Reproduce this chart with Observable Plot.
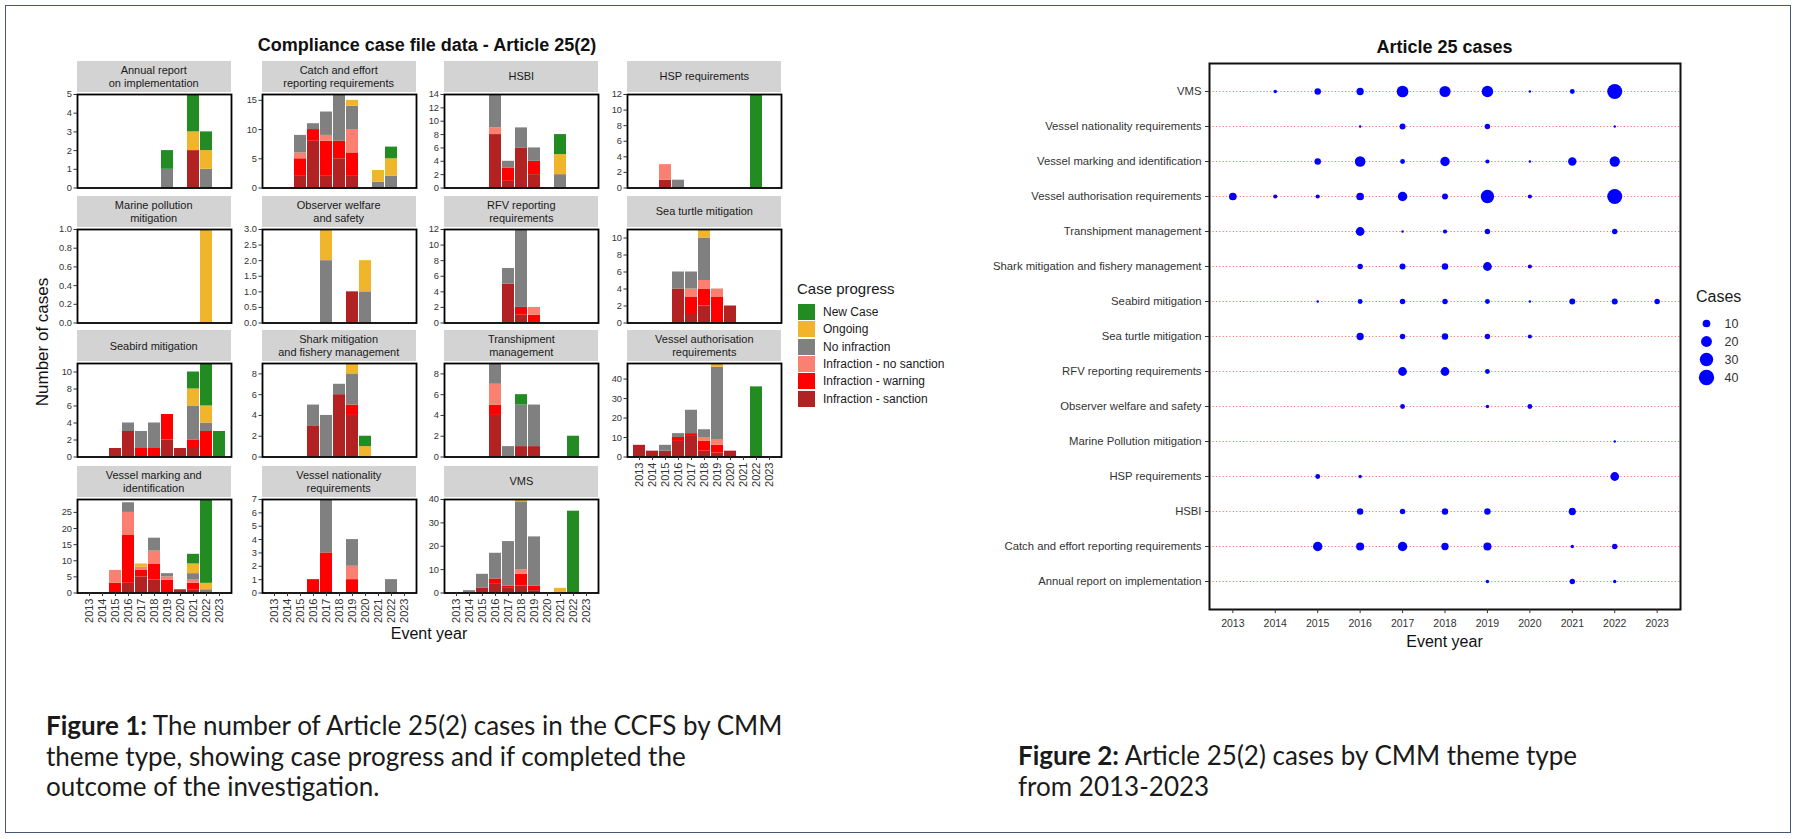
<!DOCTYPE html>
<html><head><meta charset="utf-8">
<script src="https://cdn.jsdelivr.net/npm/d3@7"></script>
<script src="https://cdn.jsdelivr.net/npm/@observablehq/plot@0.6"></script>
<style>
body{margin:0;background:#fff;}
#page{position:relative;width:1797px;height:839px;overflow:hidden;font-family:"Liberation Sans",Arial,sans-serif;background:#fff;}
.strip{position:absolute;background:#D3D3D3;color:#1a1a1a;font-size:11px;display:flex;align-items:center;justify-content:center;text-align:center;line-height:1.15;white-space:pre-line;}
.t{position:absolute;white-space:nowrap;transform:translate(-50%,-50%);color:#111;}
.cap{position:absolute;font-family:Lato,"Open Sans",sans-serif;font-size:26px;line-height:30.5px;color:#1a1a1a;white-space:nowrap;}
.lg{position:absolute;white-space:nowrap;color:#1a1a1a;}
</style></head><body><div id="page"></div>
<script>
// ---------- DATA ----------
const years = [2013,2014,2015,2016,2017,2018,2019,2020,2021,2022,2023];
// stack order, bottom -> top
const progress = ["Infraction - sanction","Infraction - warning","Infraction - no sanction","No infraction","Ongoing","New Case"];
const progressColors = ["#B22222","#FF0000","#FA8072","#808080","#F1B52B","#228B22"];
const legendOrder = ["New Case","Ongoing","No infraction","Infraction - no sanction","Infraction - warning","Infraction - sanction"];

// rows: [year, sanction, warning, no sanction, no infraction, ongoing, new case]
const annualReport   = [[2019,0,0,0,1,0,1],[2021,2,0,0,0,1,2],[2022,0,0,0,1,1,1]];
const catchEffort    = [[2015,2,3,1,3,0,0],[2016,8,2,0,1,0,0],[2017,2,6,1,4,0,0],[2018,5,3,0,8,0,0],[2019,2,4,4,4,1,0],[2021,0,0,0,1,2,0],[2022,0,0,0,2,3,2]];
const hsbi           = [[2016,8,0,1,5,0,0],[2017,1,2,0,1,0,0],[2018,6,0,0,3,0,0],[2019,2,2,0,2,0,0],[2021,0,0,0,2,3,3]];
const hspReq         = [[2015,1,0,2,0,0,0],[2016,0,0,0,1,0,0],[2022,0,0,0,0,0,12]];
const marinePollution= [[2022,0,0,0,0,1,0]];
const observerWelfare= [[2017,0,0,0,2,1,0],[2019,1,0,0,0,0,0],[2020,0,0,0,1,1,0]];
const rfvReporting   = [[2017,5,0,0,2,0,0],[2018,1,1,0,10,0,0],[2019,0,1,1,0,0,0]];
const seaTurtle      = [[2016,4,0,0,2,0,0],[2017,1,2,1,2,0,0],[2018,2,2,1,5,1,0],[2019,0,3,1,0,0,0],[2020,2,0,0,0,0,0]];
const seabird        = [[2015,1,0,0,0,0,0],[2016,3,0,0,1,0,0],[2017,0,1,0,2,0,0],[2018,0,1,0,3,0,0],[2019,2,3,0,0,0,0],[2020,1,0,0,0,0,0],[2021,1,1,0,4,2,2],[2022,0,3,0,1,2,5],[2023,0,0,0,0,0,3]];
const sharkMitigation= [[2016,3,0,0,2,0,0],[2017,0,0,0,4,0,0],[2018,6,0,0,1,0,0],[2019,4,1,0,3,1,0],[2020,0,0,0,0,1,1]];
const transhipment   = [[2016,4,1,2,2,0,0],[2017,0,0,0,1,0,0],[2018,1,0,0,4,0,1],[2019,1,0,0,4,0,0],[2022,0,0,0,0,0,2]];
const vesselAuth     = [[2013,6,0,0,0,0,0],[2014,3,0,0,0,0,0],[2015,3,0,0,3,0,0],[2016,8,2,0,2,0,0],[2017,11,1,0,12,0,0],[2018,3,5,2,4,0,0],[2019,2,4,3,37,2,0],[2020,3,0,0,0,0,0],[2022,0,0,0,0,0,36]];
const vesselMarking  = [[2015,0,3,4,0,0,0],[2016,3,15,7,3,0,0],[2017,5,2,1,0,1,0],[2018,4,5,4,4,0,0],[2019,0,4,1,1,0,0],[2020,1,0,0,0,0,0],[2021,1,2,1,2,3,3],[2022,0,0,0,1,2,26]];
const vesselNation   = [[2016,0,1,0,0,0,0],[2017,0,3,0,4,0,0],[2019,0,1,1,2,0,0],[2022,0,0,0,1,0,0]];
const vms            = [[2014,0,0,0,1,0,0],[2015,2,0,0,6,0,0],[2016,4,2,0,11,0,0],[2017,2,1,0,19,0,0],[2018,3,5,2,29,1,0],[2019,1,2,0,21,0,0],[2021,0,0,0,0,2,0],[2022,0,0,0,0,0,35]];

const stripLabels = ["Annual report\non implementation","Catch and effort\nreporting requirements","HSBI","HSP requirements",
  "Marine pollution\nmitigation","Observer welfare\nand safety","RFV reporting\nrequirements","Sea turtle mitigation",
  "Seabird mitigation","Shark mitigation\nand fishery management","Transhipment\nmanagement","Vessel authorisation\nrequirements",
  "Vessel marking and\nidentification","Vessel nationality\nrequirements","VMS"];
const yTickSteps = [1,5,2,2,0.2,0.5,2,2,2,2,2,10,5,1,10];

// dot chart: [year, cases]
const dotThemes = ["VMS","Vessel nationality requirements","Vessel marking and identification","Vessel authorisation requirements",
  "Transhipment management","Shark mitigation and fishery management","Seabird mitigation","Sea turtle mitigation",
  "RFV reporting requirements","Observer welfare and safety","Marine Pollution mitigation","HSP requirements","HSBI",
  "Catch and effort reporting requirements","Annual report on implementation"];
const dotVMS        = [[2014,2],[2015,7],[2016,9],[2017,23],[2018,21],[2019,22],[2020,1],[2021,4],[2022,38]];
const dotNationality= [[2016,1],[2017,6],[2019,5],[2022,1]];
const dotMarking    = [[2015,7],[2016,19],[2017,4],[2018,15],[2019,3],[2020,1],[2021,12],[2022,18]];
const dotAuth       = [[2013,10],[2014,3],[2015,3],[2016,10],[2017,15],[2018,6],[2019,30],[2020,3],[2022,38]];
const dotTranship   = [[2016,13],[2017,1],[2018,3],[2019,5],[2022,5]];
const dotShark      = [[2016,5],[2017,6],[2018,7],[2019,13],[2020,3]];
const dotSeabird    = [[2015,1],[2016,4],[2017,5],[2018,5],[2019,4],[2020,1],[2021,6],[2022,6],[2023,5]];
const dotSeaTurtle  = [[2016,9],[2017,5],[2018,7],[2019,5],[2020,3]];
const dotRFV        = [[2017,13],[2018,13],[2019,4]];
const dotObserver   = [[2017,4],[2019,2],[2020,4]];
const dotMarine     = [[2022,1]];
const dotHSP        = [[2015,4],[2016,2],[2022,13]];
const dotHSBI       = [[2016,7],[2017,5],[2018,7],[2019,7],[2021,9]];
const dotCatch      = [[2015,15],[2016,11],[2017,15],[2018,9],[2019,11],[2021,2],[2022,5]];
const dotAnnual     = [[2019,2],[2021,5],[2022,2]];
const sizeLegend = [10,20,30,40];

// ---------- LAYOUT ----------
const page = document.getElementById("page");
function place(el, left, top){ el.style.position="absolute"; el.style.left=left+"px"; el.style.top=top+"px"; page.appendChild(el); return el; }
function text(str, x, y, css, cls="t"){ const d=document.createElement("div"); d.className=cls; d.textContent=str; Object.assign(d.style, css||{}); return place(d, x, y); }

// border
const border = document.createElement("div");
Object.assign(border.style,{width:"1786px",height:"828px",border:"1.5px solid #46577a",boxSizing:"border-box"});
place(border, 5, 5);

// ---------- FIGURE 1: facets ----------
const facetData = [annualReport,catchEffort,hsbi,hspReq,marinePollution,observerWelfare,rfvReporting,seaTurtle,
  seabird,sharkMitigation,transhipment,vesselAuth,vesselMarking,vesselNation,vms];
const colLefts=[76.7,261.7,444.3,627.3], rowTops=[94,229,363.4,499], PW=154, PH=93.5;
const bottomPanels = new Set([11,12,13,14]);

facetData.forEach((rows, i) => {
  const col = i % 4, row = Math.floor(i / 4);
  const long = [];
  rows.forEach(r => progress.forEach((k, j) => { if (r[j+1] > 0) long.push({year: r[0], progress: k, n: r[j+1]}); }));
  const ymax = d3.max(rows, r => d3.sum(r.slice(1)));
  const step = yTickSteps[i];
  const ticks = d3.range(0, ymax + step/1000, step).map(v => +v.toFixed(3));
  const fmt = step < 1 ? d3.format(".1f") : d3.format("d");
  const showX = bottomPanels.has(i);
  const ml = 30, mr = 2, mt = 1, mb = showX ? 38 : 1;
  const marks = [
    Plot.barY(long, {x: "year", y: "n", fill: "progress", order: progress}),
    Plot.frame({stroke: "#000", strokeWidth: 1.8}),
    Plot.axisY({ticks, tickFormat: fmt, tickSize: 3.5, tickPadding: 2, fontSize: 9.3, label: null})
  ];
  if (showX) marks.push(Plot.axisX({tickRotate: -90, tickSize: 3.5, tickPadding: 2, fontSize: 11, label: null, tickFormat: d => String(d)}));
  const chart = Plot.plot({
    width: PW + ml + mr, height: PH + mt + mb,
    marginLeft: ml, marginRight: mr, marginTop: mt, marginBottom: mb,
    x: {type: "band", domain: years, paddingInner: 0.1, paddingOuter: 0.15, axis: showX ? undefined : null},
    y: {domain: [0, ymax]},
    color: {domain: progress, range: progressColors},
    style: {background: "transparent", overflow: "visible", fontFamily: "Liberation Sans, Arial, sans-serif", color: "#333"},
    marks
  });
  place(chart, colLefts[col] - ml, rowTops[row] - mt);
  const s = document.createElement("div");
  s.className = "strip"; s.textContent = stripLabels[i];
  Object.assign(s.style, {width: PW + "px", height: "31px"});
  place(s, colLefts[col], rowTops[row] - 33);
});

text("Compliance case file data - Article 25(2)", 427, 45, {fontSize: "18px", fontWeight: "bold"});
text("Number of cases", 43, 342, {fontSize: "17px", transform: "translate(-50%,-50%) rotate(-90deg)"});
text("Event year", 429, 634, {fontSize: "16px"});

// case progress legend
text("Case progress", 797, 280, {fontSize: "15px"}, "lg");
legendOrder.forEach((k, i) => {
  const sw = document.createElement("div");
  Object.assign(sw.style, {width: "17px", height: "16px", background: progressColors[progress.indexOf(k)]});
  place(sw, 798, 304 + i * 17.3);
  text(k, 823, 304 + i * 17.3 + 1, {fontSize: "12px"}, "lg");
});

// ---------- FIGURE 2: dot chart ----------
const dotSeries = [dotVMS,dotNationality,dotMarking,dotAuth,dotTranship,dotShark,dotSeabird,dotSeaTurtle,dotRFV,dotObserver,dotMarine,dotHSP,dotHSBI,dotCatch,dotAnnual];
const dotLong = [];
dotSeries.forEach((arr, i) => arr.forEach(([year, n]) => dotLong.push({theme: dotThemes[i], year, n})));
const rScale = {domain: [0, 40], range: [0, 7.7]};
const dml = 224, dmr = 3, dmt = 2, dmb = 34, DW = 471, DH = 546;
const dotChart = Plot.plot({
  width: DW + dml + dmr, height: DH + dmt + dmb,
  marginLeft: dml, marginRight: dmr, marginTop: dmt, marginBottom: dmb,
  x: {type: "linear", domain: [2012.45, 2023.55]},
  y: {type: "point", domain: dotThemes, padding: 0.6},
  r: rScale,
  style: {background: "transparent", overflow: "visible", fontFamily: "Liberation Sans, Arial, sans-serif", color: "#333"},
  marks: [
    Plot.ruleY(dotThemes, {y: d => d, stroke: "#ff0000", strokeOpacity: 0.55, strokeDasharray: "1.2,2.2"}),
    Plot.dot(dotLong, {x: "year", y: "theme", r: "n", fill: "#0000ff"}),
    Plot.frame({stroke: "#111", strokeWidth: 2}),
    Plot.axisY({tickSize: 4, tickPadding: 4, fontSize: 11.3, label: null}),
    Plot.axisX({ticks: years, tickFormat: "d", tickSize: 4, tickPadding: 6, fontSize: 10.5, label: null})
  ]
});
place(dotChart, 1209 - dml, 63 - dmt);
text("Article 25 cases", 1444.5, 47, {fontSize: "18px", fontWeight: "bold"});
text("Event year", 1444.5, 642, {fontSize: "16px"});

// size legend
text("Cases", 1696, 288, {fontSize: "16px"}, "lg");
const sizeLeg = Plot.plot({
  width: 50, height: 72, margin: 0,
  x: {domain: [0, 50], axis: null},
  y: {type: "point", domain: sizeLegend, padding: 0.5, axis: null},
  r: rScale,
  style: {background: "transparent", overflow: "visible", fontFamily: "Liberation Sans, Arial, sans-serif"},
  marks: [
    Plot.dot(sizeLegend, {x: () => 10, y: d => d, r: d => d, fill: "#0000ff"}),
    Plot.text(sizeLegend, {x: () => 28, y: d => d, text: d => String(d), textAnchor: "start", fontSize: 12.5, fill: "#333"})
  ]
});
place(sizeLeg, 1696, 314);

// ---------- captions ----------
const cap1 = document.createElement("div"); cap1.className = "cap";
cap1.innerHTML = "<b>Figure 1:</b> The number of Article 25(2) cases in the CCFS by CMM<br>theme type, showing case progress and if completed the<br>outcome of the investigation.";
place(cap1, 46, 710);
const cap2 = document.createElement("div"); cap2.className = "cap";
cap2.innerHTML = "<b>Figure 2:</b> Article 25(2) cases by CMM theme type<br>from 2013-2023";
place(cap2, 1018, 740);
</script>
</body></html>
